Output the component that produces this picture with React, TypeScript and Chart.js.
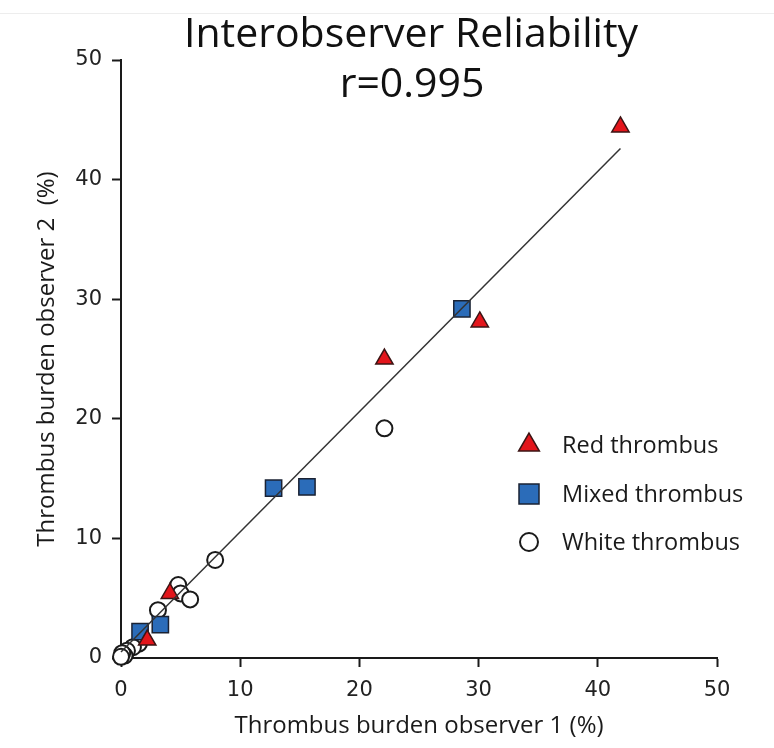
import React, { useEffect, useRef } from 'react';
import { Chart, registerables } from 'chart.js';

Chart.register(...registerables);

// ---- data ----
const redX = [41.9, 30.1, 22.1, 4.1, 2.2];
const redY = [44.4, 28.1, 25.0, 5.4, 1.5];
const mixedX = [28.6, 15.6, 12.8, 3.3, 1.6];
const mixedY = [29.2, 14.3, 14.2, 2.8, 2.2];
const whiteX = [22.1, 7.9, 4.8, 5.0, 5.8, 3.1, 1.5, 1.0, 0.5, 0.3, 0.1, 0.0];
const whiteY = [19.2, 8.2, 6.1, 5.4, 4.9, 4.0, 1.2, 0.9, 0.6, 0.2, 0.4, 0.1];
const fitX = [0, 41.9];
const fitY = [0.5, 42.6];
const axisTicks = [0, 10, 20, 30, 40, 50];
const legendLabels = ['Red thrombus', 'Mixed thrombus', 'White thrombus'];
const titleLines = ['Interobserver Reliability', 'r=0.995'];
const xTitle = 'Thrombus burden observer 1 (%)';
const yTitle = 'Thrombus burden observer 2  (%)';

const RED = '#e3151b';
const RED_BORDER = '#3b1414';
const BLUE = '#2b6cb9';
const BLUE_BORDER = '#1a2233';
const INK = '#1a1a1a';
const FONT = '"Open Sans", "DejaVu Sans", sans-serif';
const TICK_FONT = '"DejaVu Sans", "Open Sans", sans-serif';

const toPts = (xs: number[], ys: number[]) => xs.map((x, i) => ({ x, y: ys[i] }));

function drawMarker(ctx: CanvasRenderingContext2D, kind: number, x: number, y: number) {
  ctx.beginPath();
  if (kind === 0) {
    const r = 12;
    ctx.moveTo(x, y - r);
    ctx.lineTo(x + r * Math.sin((2 * Math.PI) / 3), y - r * Math.cos((2 * Math.PI) / 3));
    ctx.lineTo(x + r * Math.sin((4 * Math.PI) / 3), y - r * Math.cos((4 * Math.PI) / 3));
    ctx.closePath();
    ctx.fillStyle = RED;
    ctx.strokeStyle = RED_BORDER;
    ctx.lineWidth = 1.5;
  } else if (kind === 1) {
    const h = 10;
    ctx.rect(x - h, y - h, 2 * h, 2 * h);
    ctx.fillStyle = BLUE;
    ctx.strokeStyle = BLUE_BORDER;
    ctx.lineWidth = 1.5;
  } else {
    ctx.arc(x, y, 9, 0, Math.PI * 2);
    ctx.fillStyle = '#ffffff';
    ctx.strokeStyle = INK;
    ctx.lineWidth = 2;
  }
  ctx.fill();
  ctx.stroke();
}

const overlayPlugin = {
  id: 'overlay',
  beforeDraw(chart: any) {
    const ctx = chart.ctx as CanvasRenderingContext2D;
    ctx.save();
    ctx.strokeStyle = '#ededed';
    ctx.lineWidth = 1;
    ctx.beginPath();
    ctx.moveTo(0, 13.5);
    ctx.lineTo(chart.width, 13.5);
    ctx.stroke();
    ctx.restore();
  },
  afterDraw(chart: any) {
    const ctx = chart.ctx as CanvasRenderingContext2D;
    ctx.save();
    // title
    ctx.fillStyle = '#111';
    ctx.textAlign = 'center';
    ctx.textBaseline = 'alphabetic';
    ctx.font = `41px ${FONT}`;
    ctx.fillText(titleLines[0], 411, 47);
    ctx.fillText(titleLines[1], 412, 97);
    // legend
    ctx.textAlign = 'left';
    ctx.textBaseline = 'middle';
    ctx.font = `23.5px ${FONT}`;
    const rows = [445, 494, 542];
    legendLabels.forEach((label, i) => {
      drawMarker(ctx, i, 529, rows[i]);
      ctx.fillStyle = '#1a1a1a';
      ctx.fillText(label, 562, rows[i] + 1);
    });
    ctx.restore();
  },
};

export default function App() {
  const ref = useRef<HTMLCanvasElement | null>(null);

  useEffect(() => {
    if (!ref.current) return;
    const setTicks = (s: any) => {
      s.ticks = axisTicks.map((v) => ({ value: v }));
    };
    const gridCfg = {
      drawOnChartArea: false,
      drawTicks: true,
      tickLength: 9,
      tickColor: INK,
      tickWidth: 2,
    };
    const borderCfg = { display: true, color: INK, width: 2 };
    const tickFont = { family: TICK_FONT, size: 21 };
    const titleFont = { family: FONT, size: 24, lineHeight: 1.2 };

    const chart = new Chart(ref.current, {
      type: 'scatter',
      data: {
        datasets: [
          {
            label: 'fit',
            data: toPts(fitX, fitY),
            showLine: true,
            borderColor: '#333333',
            borderWidth: 1.5,
            pointRadius: 0,
            order: 0,
            clip: false,
          },
          {
            label: legendLabels[0],
            data: toPts(redX, redY),
            pointStyle: 'triangle',
            pointRadius: 10,
            backgroundColor: RED,
            borderColor: RED_BORDER,
            borderWidth: 1.5,
            order: 1,
            clip: false,
          },
          {
            label: legendLabels[1],
            data: toPts(mixedX, mixedY),
            pointStyle: 'rect',
            pointRadius: 11.5,
            backgroundColor: BLUE,
            borderColor: BLUE_BORDER,
            borderWidth: 1.5,
            order: 2,
            clip: false,
          },
          {
            label: legendLabels[2],
            data: toPts(whiteX, whiteY),
            pointStyle: 'circle',
            pointRadius: 8,
            backgroundColor: '#ffffff',
            borderColor: INK,
            borderWidth: 2,
            order: 3,
            clip: false,
          },
        ],
      },
      options: {
        animation: false,
        responsive: false,
        events: [],
        layout: { padding: { left: 0, top: 60, right: 57, bottom: 0 } },
        plugins: {
          legend: { display: false },
          tooltip: { enabled: false },
          title: { display: false },
        },
        scales: {
          x: {
            type: 'linear',
            position: 'bottom',
            min: 0,
            max: 50,
            afterBuildTicks: setTicks,
            afterFit: (s: any) => {
              s.height = 90;
            },
            grid: gridCfg,
            border: borderCfg,
            ticks: { color: '#222', font: tickFont, padding: 11, maxRotation: 0 },
            title: {
              display: true,
              text: xTitle,
              color: '#1a1a1a',
              font: titleFont,
              padding: { top: 0, bottom: 7 },
            },
          },
          y: {
            type: 'linear',
            min: 0,
            max: 50,
            afterBuildTicks: setTicks,
            afterFit: (s: any) => {
              s.width = 121;
            },
            grid: gridCfg,
            border: borderCfg,
            ticks: { color: '#222', font: tickFont, padding: 10 },
            title: {
              display: true,
              text: yTitle,
              color: '#1a1a1a',
              font: titleFont,
              padding: { top: 33, bottom: 0 },
            },
          },
        },
      } as any,
      plugins: [overlayPlugin as any],
    });
    return () => chart.destroy();
  }, []);

  return (
    <div style={{ position: 'fixed', left: 0, top: 0, width: 774, height: 748, background: '#fff' }}>
      <canvas ref={ref} width={774} height={748} style={{ display: 'block' }} />
    </div>
  );
}
